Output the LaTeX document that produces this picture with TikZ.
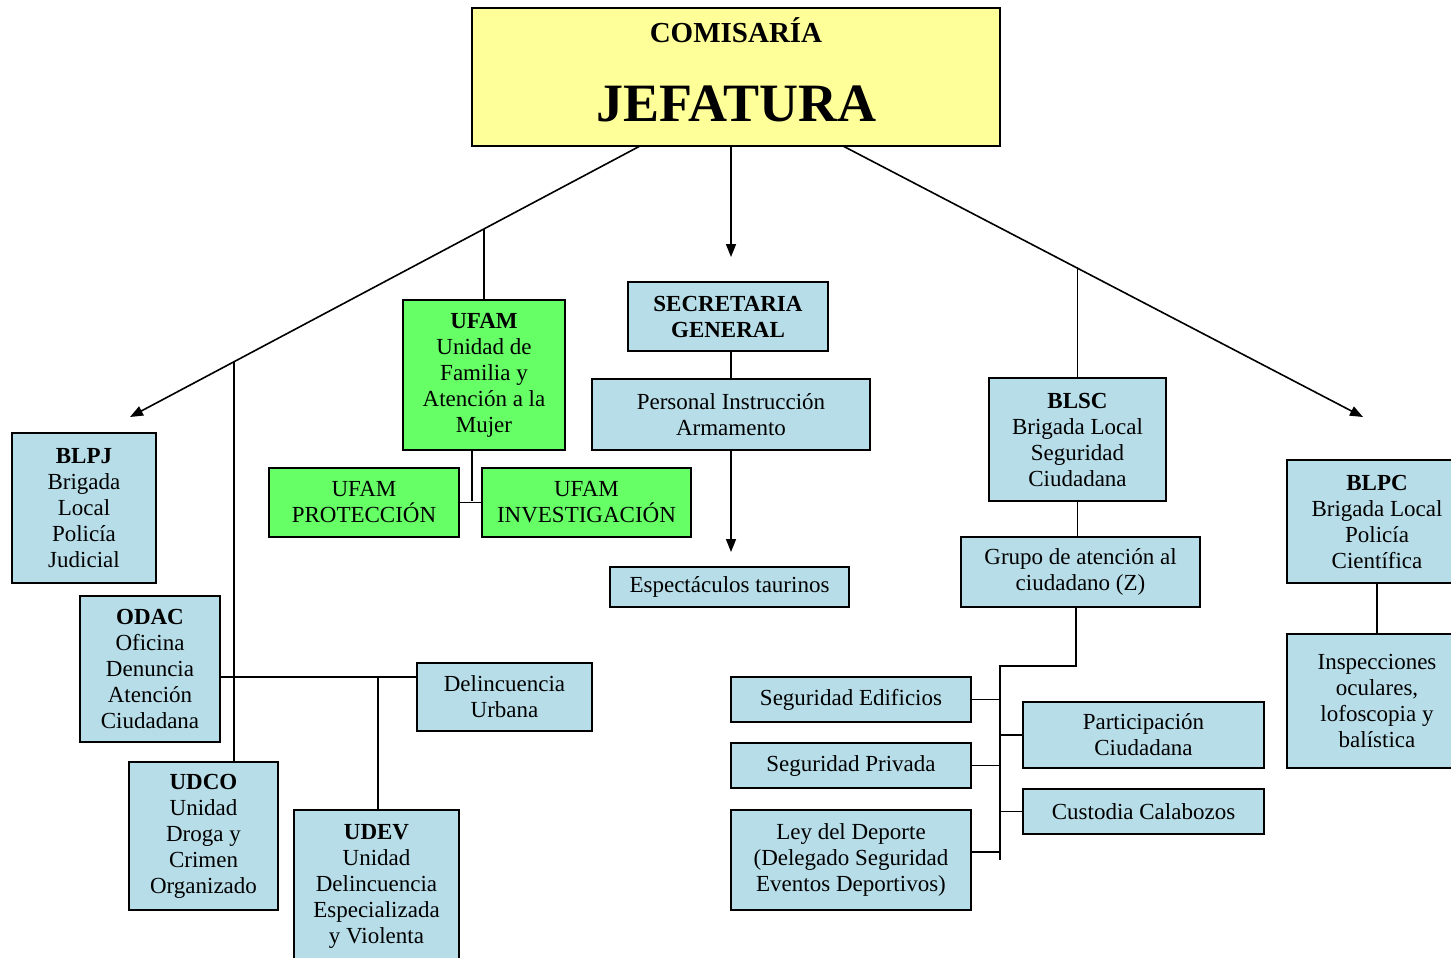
\documentclass[tikz,border=0pt]{standalone}
\usepackage{fontspec}
\setmainfont{Liberation Serif}
\usepackage{tikz}
\usetikzlibrary{arrows.meta, positioning}

\definecolor{celeste}{RGB}{183,221,232}
\definecolor{verde}{RGB}{102,255,102}
\definecolor{amarillo}{RGB}{255,255,153}

\tikzset{
    unidad/.style={draw=black, line width=0.9pt, fill=celeste, align=center,
        inner sep=0pt, font=\fontsize{11.5}{13}\selectfont},
    ufambox/.style={unidad, fill=verde},
    linea/.style={draw=black, line width=0.8pt},
    flecha/.style={linea, -{Triangle[length=6.5pt,width=5pt]}}
}

\begin{document}
\begin{tikzpicture}[x=0.5pt, y=-0.5pt]
            \useasboundingbox (0,0) rectangle (1451,958);
            \clip (0,0) rectangle (1451,958);
            \fill[white] (0,0) rectangle (1451,958);

            % jefatura
            \node[unidad, fill=amarillo, minimum width=264pt, minimum height=69pt] (jefe) at (736,77) {};
            \node[anchor=base, font=\fontsize{14.5}{16}\selectfont\bfseries] (comisaria) at (736,42) {COMISARÍA};
            \node[anchor=base, font=\fontsize{27}{29}\selectfont\bfseries] (jefatura) at (736,121) {JEFATURA};

            \coordinate (jl) at (640,146);
            \coordinate (jr) at (843,146);
            \coordinate (tipL) at (130,417);
            \coordinate (tipR) at (1363,417);
            \coordinate (tipS) at (731,257);
            \coordinate (tipT) at (731,552);

            % centro
            \node[unidad, minimum width=100pt, minimum height=34.5pt] (secre) at (728,316.5) {\textbf{SECRETARIA}\\\textbf{GENERAL}};
            \node[unidad, minimum width=139pt, minimum height=35.5pt] (personal) at (731,414.5) {Personal Instrucción\\Armamento};
            \node[unidad, minimum width=119.5pt, minimum height=20pt] (taurinos) at (729.5,587) {Espectáculos taurinos};

            \node[ufambox, minimum width=81pt, minimum height=75pt] (ufam) at (484,375) {\textbf{UFAM}\\Unidad de\\Familia y\\Atención a la\\Mujer};
            \node[ufambox, minimum width=95pt, minimum height=34.5pt] (ufamprot) at (364,502.5) {UFAM\\PROTECCIÓN};
            \node[ufambox, minimum width=104.5pt, minimum height=34.5pt] (ufaminv) at (586.5,502.5) {UFAM\\INVESTIGACIÓN};

            % izquierda
            \node[unidad, minimum width=72pt, minimum height=75pt] (blpj) at (84,508) {\textbf{BLPJ}\\Brigada\\Local\\Policía\\Judicial};
            \node[unidad, minimum width=70pt, minimum height=73pt] (odac) at (150,669) {\textbf{ODAC}\\Oficina\\Denuncia\\Atención\\Ciudadana};
            \node[unidad, minimum width=87.5pt, minimum height=34pt] (delurb) at (504.5,697) {Delincuencia\\Urbana};
            \node[unidad, minimum width=74.5pt, minimum height=74pt] (udco) at (203.5,836) {\textbf{UDCO}\\Unidad\\Droga y\\Crimen\\Organizado};
            \node[unidad, minimum width=82.5pt, minimum height=76pt] (udev) at (376.5,886) {\textbf{UDEV}\\Unidad\\Delincuencia\\Especializada\\y Violenta};

            % derecha
            \node[unidad, minimum width=88.5pt, minimum height=61.5pt] (blsc) at (1077.5,439.5) {\textbf{BLSC}\\Brigada Local\\Seguridad\\Ciudadana};
            \node[unidad, minimum width=119.5pt, minimum height=35pt] (grupo) at (1080.5,572) {Grupo de atención al\\ciudadano (Z)};
            \node[unidad, minimum width=120pt, minimum height=22.5pt] (segedif) at (851,699.5) {Seguridad Edificios};
            \node[unidad, minimum width=120pt, minimum height=22.5pt] (segpriv) at (851,765.5) {Seguridad Privada};
            \node[unidad, minimum width=120pt, minimum height=50pt] (ley) at (851,860) {Ley del Deporte\\(Delegado Seguridad\\Eventos Deportivos)};
            \node[unidad, minimum width=120.5pt, minimum height=33pt] (partic) at (1143.5,735) {Participación\\Ciudadana};
            \node[unidad, minimum width=120.5pt, minimum height=22.5pt] (custodia) at (1143.5,811.5) {Custodia Calabozos};
            \node[unidad, minimum width=90pt, minimum height=61.5pt] (blpc) at (1377,521.5) {\textbf{BLPC}\\Brigada Local\\Policía\\Científica};
            \node[unidad, minimum width=90pt, minimum height=67pt] (inspec) at (1377,701) {Inspecciones\\oculares,\\lofoscopia y\\balística};

            % flechas desde la jefatura
            \draw[flecha] (jl) -- (tipL) coordinate[pos=0.308] (ju) coordinate[pos=0.796] (jd);
            \draw[flecha] (jr) -- (tipR) coordinate[pos=0.446] (js);
            \draw[flecha] (jefe.south -| tipS) -- (tipS);

            \draw[linea] (ju -| ufam.north) -- (ufam.north);
            \draw[linea] (jd) -- (jd |- udco.north);
            \draw[linea] (js -| blsc.north) -- (blsc.north);

            \draw[linea] (personal.north) -- (personal.north |- secre.south);
            \draw[flecha] (personal.south) -- (tipT);

            \coordinate (jf) at (472,501);
            \draw[linea] (ufam.south -| jf) -- (jf);
            \draw[linea] (ufamprot.east) -- (ufaminv.west);

            \coordinate (jo) at (378,677);
            \draw[linea] (odac.east |- jo) -- (delurb.west |- jo);
            \draw[linea] (jo) -- (jo |- udev.north);

            \draw[linea] (blsc.south) -- (blsc.south |- grupo.north);
            \coordinate (jg) at (1000,666);
            \draw[linea] (grupo.south -| 1076,0) |- (jg) -- (jg |- ley.east);
            \foreach \n in {segedif, segpriv}{
                \draw[linea] (\n.east) -- (\n.east -| jg);
            }
            \draw[linea] ([yshift=4pt]ley.east) -- ([yshift=4pt]ley.east -| jg);
            \foreach \n in {partic, custodia}{
                \draw[linea] (\n.west) -- (\n.west -| jg);
            }

            \draw[linea] (blpc.south) -- (inspec.north);
        \end{tikzpicture}
\end{document}
